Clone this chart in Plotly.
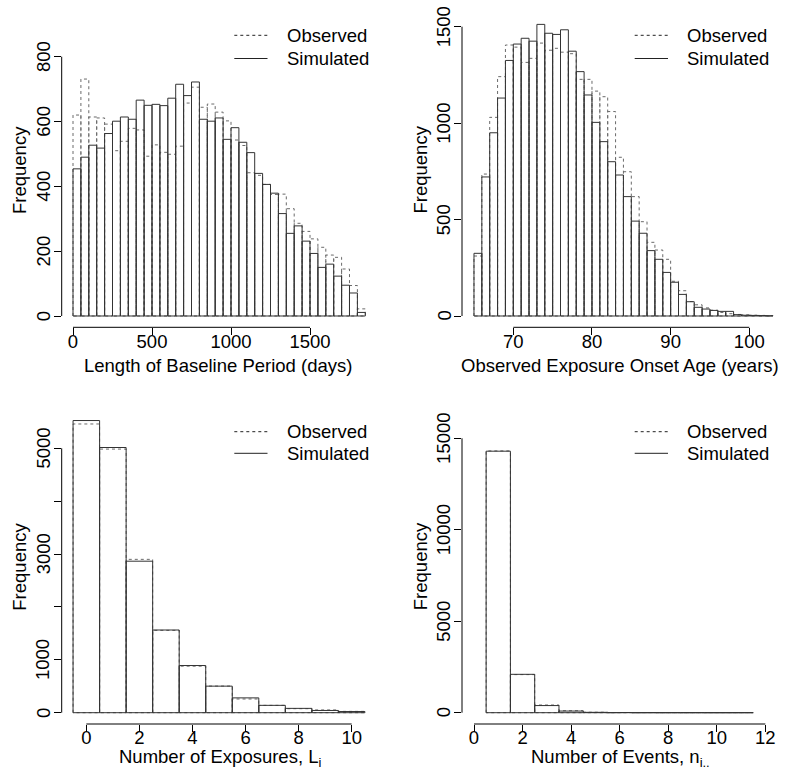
import plotly.graph_objects as go

W, H = 785, 777

# ---------------- data ----------------
# Panel 1: Length of baseline period (days), bins of 50 days
baseline_bin_starts = list(range(0, 1850, 50))
baseline_bin_width = 50
baseline_simulated = [454, 490, 527, 518, 563, 601, 614, 607, 666, 650, 653, 649, 672,
                      715, 680, 722, 607, 601, 611, 545, 581, 536, 504, 440, 406, 379,
                      316, 255, 278, 231, 193, 150, 160, 123, 95, 71, 11]
baseline_observed = [620, 731, 614, 611, 592, 510, 539, 579, 574, 493, 528, 505, 499,
                     524, 657, 706, 644, 654, 629, 602, 543, 526, 442, 434, 406, 375,
                     376, 331, 286, 261, 238, 212, 188, 181, 145, 94, 22]

# Panel 2: Observed exposure onset age (years), bins of 1 year
age_bin_starts = list(range(65, 103))
age_bin_width = 1
age_simulated = [325, 721, 950, 1130, 1325, 1410, 1440, 1425, 1512, 1466, 1460, 1484,
                 1373, 1267, 1146, 1004, 904, 800, 731, 619, 492, 429, 339, 294, 226,
                 175, 112, 74, 45, 36, 29, 24, 24, 7, 4, 3, 2, 1]
age_observed = [311, 736, 1030, 1241, 1405, 1394, 1315, 1336, 1415, 1378, 1388, 1368,
                1360, 1227, 1227, 1166, 1137, 1060, 823, 748, 619, 489, 382, 342, 294,
                180, 131, 75, 58, 42, 30, 18, 12, 8, 6, 4, 3, 2]

# Panel 3: Number of exposures
exposures_counts = [0, 1, 2, 3, 4, 5, 6, 7, 8, 9, 10]
exposures_simulated = [5525, 5015, 2865, 1564, 892, 502, 280, 139, 82, 42, 22]
exposures_observed = [5460, 4985, 2900, 1557, 880, 504, 259, 139, 76, 52, 25]

# Panel 4: Number of events
events_counts = [1, 2, 3, 4, 5, 6, 7, 8, 9, 10, 11]
events_simulated = [14295, 2098, 390, 90, 20, 6, 2, 1, 1, 0, 1]
events_observed = [14310, 2082, 420, 108, 25, 8, 3, 1, 1, 1, 1]

# tick labels
p1_xticks = [0, 500, 1000, 1500]
p1_yticks = [0, 200, 400, 600, 800]
p2_xticks = [70, 80, 90, 100]
p2_yticks = [0, 500, 1000, 1500]
p3_xticks = [0, 2, 4, 6, 8, 10]
p3_yticks = [0, 1000, 2000, 3000, 4000, 5000]
p3_ylabels = ["0", "1000", "", "3000", "", "5000"]
p4_xticks = [0, 2, 4, 6, 8, 10, 12]
p4_yticks = [0, 5000, 10000, 15000]

x_titles = ["Length of Baseline Period (days)",
            "Observed Exposure Onset Age (years)",
            "Number of Exposures, L<sub>i</sub>",
            "Number of Events, n<sub>i..</sub>"]
legend_labels = ["Observed", "Simulated"]

# ---------------- style / layout ----------------
FONT = "Liberation Sans, Arial, Helvetica, sans-serif"
FS = 18.5
SOLID = "#333333"
DASHED = "#6a6a6a"

# pixel calibration of each panel: (x0 value, x0 px, px per x unit),
# (y0 px, px per y unit), plot-region pixel box (left, right, top, bottom)
panels = [
    dict(xcal=(0, 73.0, 237.0 / 1500), ycal=(316.0, 259.3 / 800), box=(61.7, 377.0, 12.7, 327.3)),
    dict(xcal=(70, 513.3, 236.0 / 30), ycal=(316.0, 289.3 / 1500), box=(462.0, 785.0, 12.7, 327.3)),
    dict(xcal=(0, 86.33, 265.33 / 10), ycal=(712.7, 264.4 / 5000), box=(61.7, 377.0, 409.4, 724.0)),
    dict(xcal=(0, 474.0, 291.33 / 12), ycal=(712.7, 274.4 / 15000), box=(462.0, 777.0, 409.4, 724.0)),
]


def rect_path(lefts, width, heights):
    xs, ys = [], []
    for l, h in zip(lefts, heights):
        r = l + width
        xs += [l, l, r, r, l, None]
        ys += [0, h, h, 0, 0, None]
    return xs, ys


series = [
    (baseline_bin_starts, baseline_bin_width, baseline_observed, baseline_simulated),
    (age_bin_starts, age_bin_width, age_observed, age_simulated),
    ([c - 0.5 for c in exposures_counts], 1, exposures_observed, exposures_simulated),
    ([c - 0.5 for c in events_counts], 1, events_observed, events_simulated),
]

fig = go.Figure()
for i, (lefts, wd, obs, sim) in enumerate(series):
    ax = "" if i == 0 else str(i + 1)
    xo, yo = rect_path(lefts, wd, obs)
    xs, ys = rect_path(lefts, wd, sim)
    fig.add_trace(go.Scatter(x=xo, y=yo, mode="lines", xaxis="x" + ax, yaxis="y" + ax,
                             line=dict(color=DASHED, width=1, dash="3px,3px"),
                             name=legend_labels[0], showlegend=False, hoverinfo="skip"))
    fig.add_trace(go.Scatter(x=xs, y=ys, mode="lines", xaxis="x" + ax, yaxis="y" + ax,
                             line=dict(color=SOLID, width=1),
                             name=legend_labels[1], showlegend=False, hoverinfo="skip"))

xticks_all = [p1_xticks, p2_xticks, p3_xticks, p4_xticks]
yticks_all = [p1_yticks, p2_yticks, p3_yticks, p4_yticks]
ylabels_all = [[str(v) for v in p1_yticks], [str(v) for v in p2_yticks], p3_ylabels,
               [str(v) for v in p4_yticks]]

layout = dict(width=W, height=H, margin=dict(l=0, r=0, t=0, b=0, pad=0),
              paper_bgcolor="white", plot_bgcolor="white", showlegend=False,
              font=dict(family=FONT, size=FS, color="black"))
shapes = []
annotations = []

for i, p in enumerate(panels):
    ax = "" if i == 0 else str(i + 1)
    xv0, xp0, xs = p["xcal"]
    yp0, ysc = p["ycal"]
    L, R, T, B = p["box"]
    xr = [xv0 + (L - xp0) / xs, xv0 + (R - xp0) / xs]
    yr = [(yp0 - B) / ysc, (yp0 - T) / ysc]
    common = dict(showgrid=False, zeroline=False, showline=False, ticks="outside",
                  ticklen=7, tickwidth=1, tickcolor="black", automargin=False,
                  tickfont=dict(family=FONT, size=FS, color="black"))
    layout["xaxis" + ax] = dict(domain=[L / W, R / W], range=xr, anchor="y" + ax,
                                tickmode="array", tickvals=xticks_all[i],
                                ticktext=[str(v) for v in xticks_all[i]],
                                ticklabelstandoff=-10, **common)
    layout["yaxis" + ax] = dict(domain=[1 - B / H, 1 - T / H], range=yr, anchor="x" + ax,
                                tickmode="array", tickvals=yticks_all[i],
                                showticklabels=False, **common)
    # y tick labels, R style (parallel to the axis, centred on the tick)
    for v, lab in zip(yticks_all[i], ylabels_all[i]):
        if lab:
            annotations.append(dict(text=lab, xref="x" + ax + " domain", x=0, xshift=-18.4,
                                    yref="y" + ax, y=v, textangle=-90, showarrow=False,
                                    xanchor="center", yanchor="middle",
                                    font=dict(family=FONT, size=FS, color="black")))
    # R-style axis lines spanning only the tick range
    shapes.append(dict(type="line", xref="x" + ax, yref="y" + ax + " domain",
                       x0=xticks_all[i][0], x1=xticks_all[i][-1], y0=0, y1=0,
                       line=dict(color="black", width=1)))
    shapes.append(dict(type="line", xref="x" + ax + " domain", yref="y" + ax,
                       x0=0, x1=0, y0=yticks_all[i][0], y1=yticks_all[i][-1],
                       line=dict(color="black", width=1)))

# axis titles (pixel positions)
ytitle_pos = [(20, 170), (420.5, 170), (20, 566.7), (420.5, 566.7)]
xtitle_pos = [(218, 365), (619.5, 365), (219.7, 758), (620, 758)]
for i in range(4):
    annotations.append(dict(text="Frequency", xref="paper", yref="paper",
                            x=ytitle_pos[i][0] / W, y=1 - ytitle_pos[i][1] / H,
                            textangle=-90, showarrow=False, xanchor="center", yanchor="middle",
                            font=dict(family=FONT, size=FS, color="black")))
    annotations.append(dict(text=x_titles[i], xref="paper", yref="paper",
                            x=xtitle_pos[i][0] / W, y=1 - xtitle_pos[i][1] / H,
                            showarrow=False, xanchor="center", yanchor="middle",
                            font=dict(family=FONT, size=FS, color="black")))

# legends: (line x0, line x1, text x, row1 y, row2 y)
legend_pos = [(234.3, 267.5, 285, 35.3, 58.5), (634.7, 668, 685.3, 35.3, 58.5),
              (234.3, 267.5, 285, 431.7, 453.3), (634.7, 668, 685.3, 431.7, 453.3)]
for (lx0, lx1, tx, y1, y2) in legend_pos:
    for label, yy, dash in [(legend_labels[0], y1, "3px,3px"),
                            (legend_labels[1], y2, "solid")]:
        shapes.append(dict(type="line", xref="paper", yref="paper",
                           x0=lx0 / W, x1=lx1 / W, y0=1 - yy / H, y1=1 - yy / H,
                           line=dict(color="#222222", width=1, dash=dash)))
        annotations.append(dict(text=label, xref="paper", yref="paper",
                                x=tx / W, y=1 - yy / H, showarrow=False,
                                xanchor="left", yanchor="middle",
                                font=dict(family=FONT, size=FS, color="black")))

layout["shapes"] = shapes
layout["annotations"] = annotations
fig.update_layout(**layout)
fig.write_html("out.html")
